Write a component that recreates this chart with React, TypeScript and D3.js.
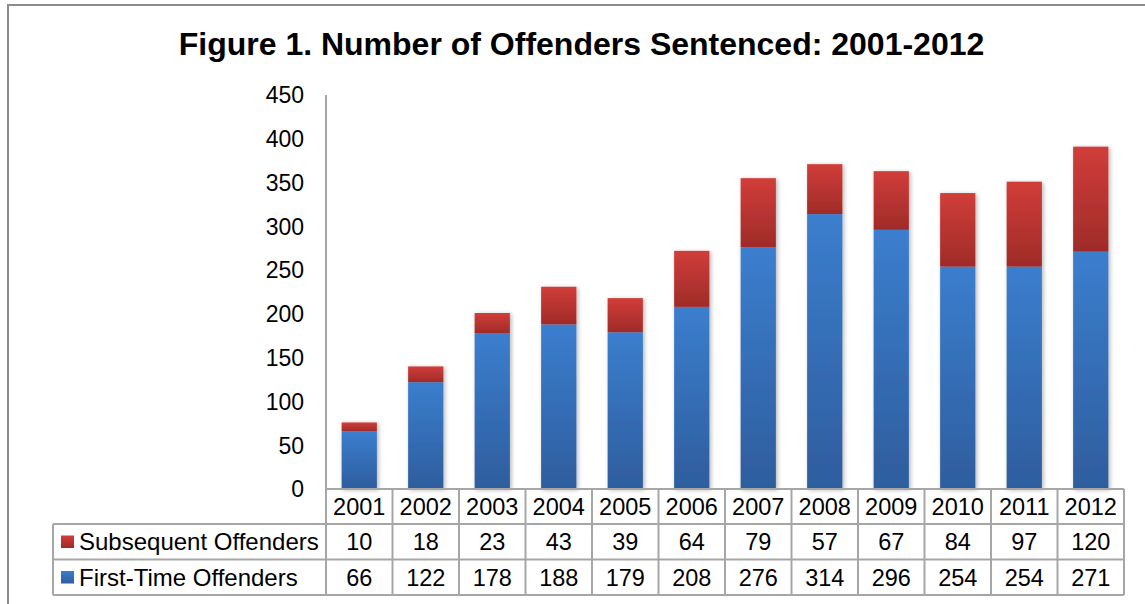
import React from "react";
import * as d3 from "d3";

const years = ["2001","2002","2003","2004","2005","2006","2007","2008","2009","2010","2011","2012"];
const firstTime = [66,122,178,188,179,208,276,314,296,254,254,271];
const subsequent = [10,18,23,43,39,64,79,57,67,84,97,120];
const yTicks = [0,50,100,150,200,250,300,350,400,450];
const titleText = "Figure 1. Number of Offenders Sentenced: 2001-2012";
const seriesNames = ["Subsequent Offenders", "First-Time Offenders"];

const W = 1145, H = 604;
const FONT = "'Liberation Sans', Arial, sans-serif";

export default function App() {
  const x = d3.scaleBand<string>().domain(years).range([326, 1124]).paddingInner(0.47).paddingOuter(0.235);
  const col = d3.scaleBand<string>().domain(years).range([326, 1124]);
  const y = d3.scaleLinear().domain([0, 450]).range([489, 95]);
  const stack = d3.stack<any>().keys(["first", "sub"]);
  const rows = years.map((yr, i) => ({ year: yr, first: firstTime[i], sub: subsequent[i] }));
  const series = stack(rows);
  const grid = "#A6A6A6";
  const rowTop = [489, 524, 559.5, 595];
  const tableLeft = 53;
  const tableRight = 1124;
  return (
    <svg width={W} height={H} style={{ position: "absolute", left: 0, top: 0, background: "#fff" }} fontFamily={FONT}>
      <defs>
        <linearGradient id="gBlue" x1="0" y1="0" x2="0" y2="1">
          <stop offset="0" stopColor="#3B7ECE" />
          <stop offset="1" stopColor="#2E5D9D" />
        </linearGradient>
        <linearGradient id="gRed" x1="0" y1="0" x2="0" y2="1">
          <stop offset="0" stopColor="#D13D39" />
          <stop offset="1" stopColor="#9F2B29" />
        </linearGradient>
        <filter id="shadow" x="-30%" y="-10%" width="160%" height="120%">
          <feDropShadow dx="1.5" dy="1" stdDeviation="2.2" floodColor="#000" floodOpacity="0.3" />
        </filter>
      </defs>
      <rect x={8} y={5} width={W} height={H} fill="none" stroke="#8C8C8C" strokeWidth={2} />
      <text x={581.5} y={55} textAnchor="middle" fontSize={32} fontWeight="bold" fill="#000">{titleText}</text>
      {/* y axis */}
      <line x1={326} x2={326} y1={95} y2={489} stroke={grid} strokeWidth={2} />
      {yTicks.map(t => (
        <text key={t} x={304} y={y(t)} dy="0.36em" textAnchor="end" fontSize={23} fill="#000">{t}</text>
      ))}
      {/* bars */}
      <g filter="url(#shadow)">
        {years.map((yr, i) => (
          <g key={yr}>
            <rect x={x(yr)} width={x.bandwidth()} y={y(series[0][i][1])} height={y(series[0][i][0]) - y(series[0][i][1])} fill="url(#gBlue)" />
            <rect x={x(yr)} width={x.bandwidth()} y={y(series[1][i][1])} height={y(series[1][i][0]) - y(series[1][i][1])} fill="url(#gRed)" />
          </g>
        ))}
      </g>
      {/* data table */}
      <g stroke={grid} strokeWidth={2} fill="none">
        <line x1={326} x2={tableRight} y1={rowTop[0]} y2={rowTop[0]} />
        <line x1={tableLeft} x2={tableRight} y1={rowTop[1]} y2={rowTop[1]} />
        <line x1={tableLeft} x2={tableRight} y1={rowTop[2]} y2={rowTop[2]} />
        <line x1={tableLeft} x2={tableRight} y1={rowTop[3]} y2={rowTop[3]} />
        <line x1={tableLeft} x2={tableLeft} y1={rowTop[1]} y2={rowTop[3]} />
        {years.map(yr => (
          <line key={yr} x1={col(yr)! + col.bandwidth()} x2={col(yr)! + col.bandwidth()} y1={rowTop[0]} y2={rowTop[3]} />
        ))}
        <line x1={326} x2={326} y1={rowTop[0]} y2={rowTop[3]} />
      </g>
      {years.map((yr, i) => (
        <g key={yr} fontSize={23.5} textAnchor="middle" fill="#000">
          <text x={col(yr)! + col.bandwidth() / 2} y={(rowTop[0] + rowTop[1]) / 2} dy="0.36em">{yr}</text>
          <text x={col(yr)! + col.bandwidth() / 2} y={(rowTop[1] + rowTop[2]) / 2} dy="0.36em">{subsequent[i]}</text>
          <text x={col(yr)! + col.bandwidth() / 2} y={(rowTop[2] + rowTop[3]) / 2} dy="0.36em">{firstTime[i]}</text>
        </g>
      ))}
      <rect x={61} y={535.5} width={13} height={12.5} fill="url(#gRed)" />
      <rect x={61} y={571} width={13} height={12.5} fill="url(#gBlue)" />
      <text x={79} y={(rowTop[1] + rowTop[2]) / 2} dy="0.36em" fontSize={24} fill="#000">{seriesNames[0]}</text>
      <text x={79} y={(rowTop[2] + rowTop[3]) / 2} dy="0.36em" fontSize={24} fill="#000">{seriesNames[1]}</text>
    </svg>
  );
}
